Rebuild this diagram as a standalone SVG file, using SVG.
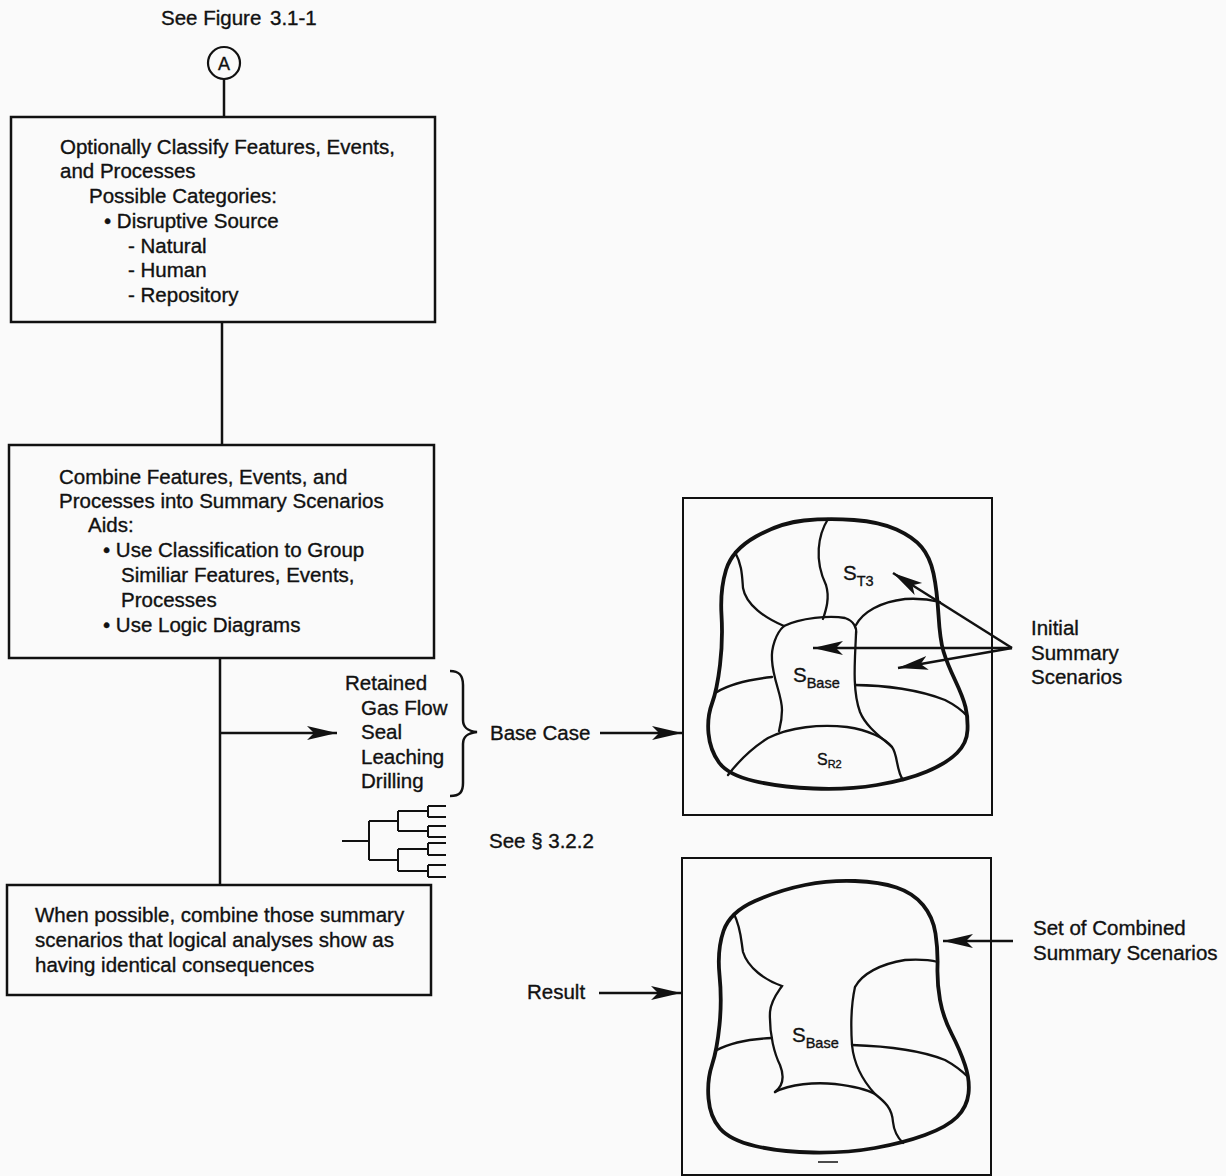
<svg xmlns="http://www.w3.org/2000/svg" width="1226" height="1176" viewBox="0 0 1226 1176">
<style>
text{font-family:"Liberation Sans",Arial,sans-serif;font-size:20.5px;fill:#111;stroke:#111;stroke-width:0.35}
.box{fill:none;stroke:#111;stroke-width:2.5}
.conn{fill:none;stroke:#111;stroke-width:2.5}
.outer{fill:none;stroke:#111;stroke-width:3.8;stroke-linejoin:round}
.inner{fill:none;stroke:#111;stroke-width:2.3;stroke-linecap:round}
.frame{fill:none;stroke:#111;stroke-width:2}
.sub{font-size:14.5px}
</style>
<defs>
<marker id="ah" markerUnits="userSpaceOnUse" markerWidth="32" markerHeight="18" refX="30" refY="9" orient="auto">
<path d="M0,2 L30,9 L0,16 L7,9 Z" fill="#111"/>
</marker>
</defs>
<rect width="1226" height="1176" fill="#fafafa"/>

<g id="ref-top">
<text x="161" y="25">See Figure<tspan x="270">3.1-1</tspan></text>
<circle cx="224" cy="63" r="16" fill="none" stroke="#111" stroke-width="2.2"/>
<text x="224" y="70" text-anchor="middle" style="font-size:18px">A</text>
</g>

<g id="connectors">
<line class="conn" x1="224" y1="79" x2="224" y2="117"/>
<line class="conn" x1="222" y1="322" x2="222" y2="445"/>
<line class="conn" x1="220" y1="658" x2="220" y2="885"/>
<line class="conn" x1="220" y1="733" x2="337" y2="733" marker-end="url(#ah)"/>
<line class="conn" x1="600" y1="733" x2="682" y2="733" marker-end="url(#ah)"/>
<line class="conn" x1="599" y1="993" x2="681" y2="993" marker-end="url(#ah)"/>
<line class="conn" x1="1013" y1="941" x2="943" y2="941" marker-end="url(#ah)"/>
<line class="conn" x1="1012" y1="648" x2="893" y2="573" marker-end="url(#ah)"/>
<line class="conn" x1="1012" y1="648" x2="813" y2="648" marker-end="url(#ah)"/>
<line class="conn" x1="1012" y1="648" x2="898" y2="668" marker-end="url(#ah)"/>
</g>

<g id="box-classify">
<rect class="box" x="11" y="117" width="424" height="205"/>
<text x="60" y="154">Optionally Classify Features, Events,</text>
<text x="60" y="178">and Processes</text>
<text x="89" y="203">Possible Categories:</text>
<text x="104" y="228">• Disruptive Source</text>
<text x="128" y="253">- Natural</text>
<text x="128" y="277">- Human</text>
<text x="128" y="302">- Repository</text>
</g>

<g id="box-combine">
<rect class="box" x="9" y="445" width="425" height="213"/>
<text x="59" y="484">Combine Features, Events, and</text>
<text x="59" y="508">Processes into Summary Scenarios</text>
<text x="88" y="532">Aids:</text>
<text x="103" y="557">• Use Classification to Group</text>
<text x="121" y="582">Similiar Features, Events,</text>
<text x="121" y="607">Processes</text>
<text x="103" y="632">• Use Logic Diagrams</text>
</g>

<g id="box-when">
<rect class="box" x="7" y="885" width="424" height="110"/>
<text x="35" y="922">When possible, combine those summary</text>
<text x="35" y="947">scenarios that logical analyses show as</text>
<text x="35" y="972">having identical consequences</text>
</g>

<g id="retained">
<text x="345" y="690">Retained</text>
<text x="361" y="715">Gas Flow</text>
<text x="361" y="739">Seal</text>
<text x="361" y="764">Leaching</text>
<text x="361" y="788">Drilling</text>
<path class="conn" d="M450,671 C460,671 463,676 463,685 L463,720 C463,728 468,731 477,732 C468,733 463,736 463,744 L463,783 C463,792 460,796 450,796" stroke-width="2.2"/>
</g>

<g id="base-case"><text x="490" y="740">Base Case</text></g>

<g id="logic-tree" fill="none" stroke="#111" stroke-width="2">
<path d="M342,841 H369 M369,821 V860 M369,821 H398 M369,860 H398 M398,811 V831 M398,849 V871 M398,811 H428 M398,831 H428 M398,849 H428 M398,871 H428 M428,806 V817 M428,826 V837 M428,843 V855 M428,865 V877 M428,806 H446 M428,817 H446 M428,826 H446 M428,837 H446 M428,843 H446 M428,855 H446 M428,865 H446 M428,877 H446"/>
</g>
<g id="see-322"><text x="489" y="848">See § 3.2.2</text></g>

<g id="initial-scenarios">
<rect class="frame" x="683" y="498" width="309" height="317"/>
<path class="outer" d="M756,536.5 Q780,523 804,520.5 Q828,518 854,520 Q880,522 896.5,529.5 Q913,537 921.5,547 Q930,557 933.5,573.5 Q937,590 938.5,615 Q940,640 943.5,651.5 Q947,663 955,680 Q963,697 965.5,707 Q968,717 967.5,730 Q967,743 957,753 Q947,763 927,771.5 Q907,780 877,785 Q847,790 813.5,788.5 Q780,787 754,781 Q728,775 719,762.5 Q710,750 708.5,733.5 Q707,717 712,703.5 Q717,690 720,665 Q723,640 721.5,615 Q720,590 726,570 Q732,550 756,536.5 Z"/>
<path class="inner" d="M828,519 C818,535 814,560 826,585 C830,598 826,610 823,619"/>
<path class="inner" d="M735,552 C742,565 742,575 743,588 C746,605 765,618 784,626"/>
<path class="inner" d="M784,626 C800,618 830,615 845,618 C854,621 857,628 856,634"/>
<path class="inner" d="M784,626 C776,633 771,648 772,660 C773,680 782,695 782,710 C782,720 780,727 779,731"/>
<path class="inner" d="M856,634 C855,660 852,690 860,712 C866,727 882,738 892,747"/>
<path class="inner" d="M856,625 C863,612 880,602 905,599 C920,598 932,600 940,602"/>
<path class="inner" d="M717,692 C728,685 745,680 772,677"/>
<path class="inner" d="M855,685 C885,685 920,690 945,700 C955,705 962,710 968,717"/>
<path class="inner" d="M728,775 C738,762 752,748 768,738 C790,727 820,724 847,727 C868,730 885,738 892,747 C898,755 896,770 903,780"/>
<text x="843" y="580">S<tspan class="sub" dy="6">T3</tspan></text>
<text x="793" y="682">S<tspan class="sub" dy="6">Base</tspan></text>
<text x="817" y="765" style="font-size:16px">S<tspan style="font-size:11px" dy="3">R2</tspan></text>
</g>
<g id="initial-label">
<text x="1031" y="635">Initial</text>
<text x="1031" y="660">Summary</text>
<text x="1031" y="684">Scenarios</text>
</g>

<g id="combined-scenarios">
<rect class="frame" x="682" y="858" width="309" height="317"/>
<path class="outer" d="M755,901 Q780,890 805,885 Q830,880 855,881 Q880,882 896.5,887.5 Q913,893 923,905 Q933,917 935.5,933.5 Q938,950 937.5,966.5 Q937,983 940,1000 Q943,1017 951.5,1033.5 Q960,1050 965,1065 Q970,1080 968.5,1093.5 Q967,1107 957,1117 Q947,1127 925,1135 Q903,1143 875,1148 Q847,1153 813.5,1152.5 Q780,1152 755,1146 Q730,1140 720,1128.5 Q710,1117 708.5,1098.5 Q707,1080 712,1065 Q717,1050 719.5,1025 Q722,1000 719.5,975 Q717,950 723.5,931 Q730,912 755,901 Z"/>
<path class="inner" d="M734,914 C741,928 741,940 743,952 C748,968 765,980 782,986 C778,992 771,1000 770,1012 C769,1035 775,1055 780,1065 C784,1075 784,1085 775,1092"/>
<path class="inner" d="M775,1092 C790,1084 815,1082 835,1084 C852,1086 866,1089 875,1094"/>
<path class="inner" d="M855,987 C851,1005 851,1030 852,1045 C854,1065 864,1082 875,1094 C885,1102 892,1108 893,1122 C894,1132 898,1138 903,1143"/>
<path class="inner" d="M855,987 C862,974 880,964 905,960 C920,959 930,960 938,962"/>
<path class="inner" d="M717,1050 C730,1043 750,1039 772,1038"/>
<path class="inner" d="M852,1045 C885,1046 920,1050 945,1060 C956,1066 963,1072 968,1077"/>
<line x1="818" y1="1162" x2="838" y2="1162" stroke="#111" stroke-width="1.5"/>
<text x="792" y="1042">S<tspan class="sub" dy="6">Base</tspan></text>
</g>
<g id="combined-label">
<text x="1033" y="935">Set of Combined</text>
<text x="1033" y="960">Summary Scenarios</text>
</g>
<g id="result"><text x="527" y="999">Result</text></g>
</svg>
